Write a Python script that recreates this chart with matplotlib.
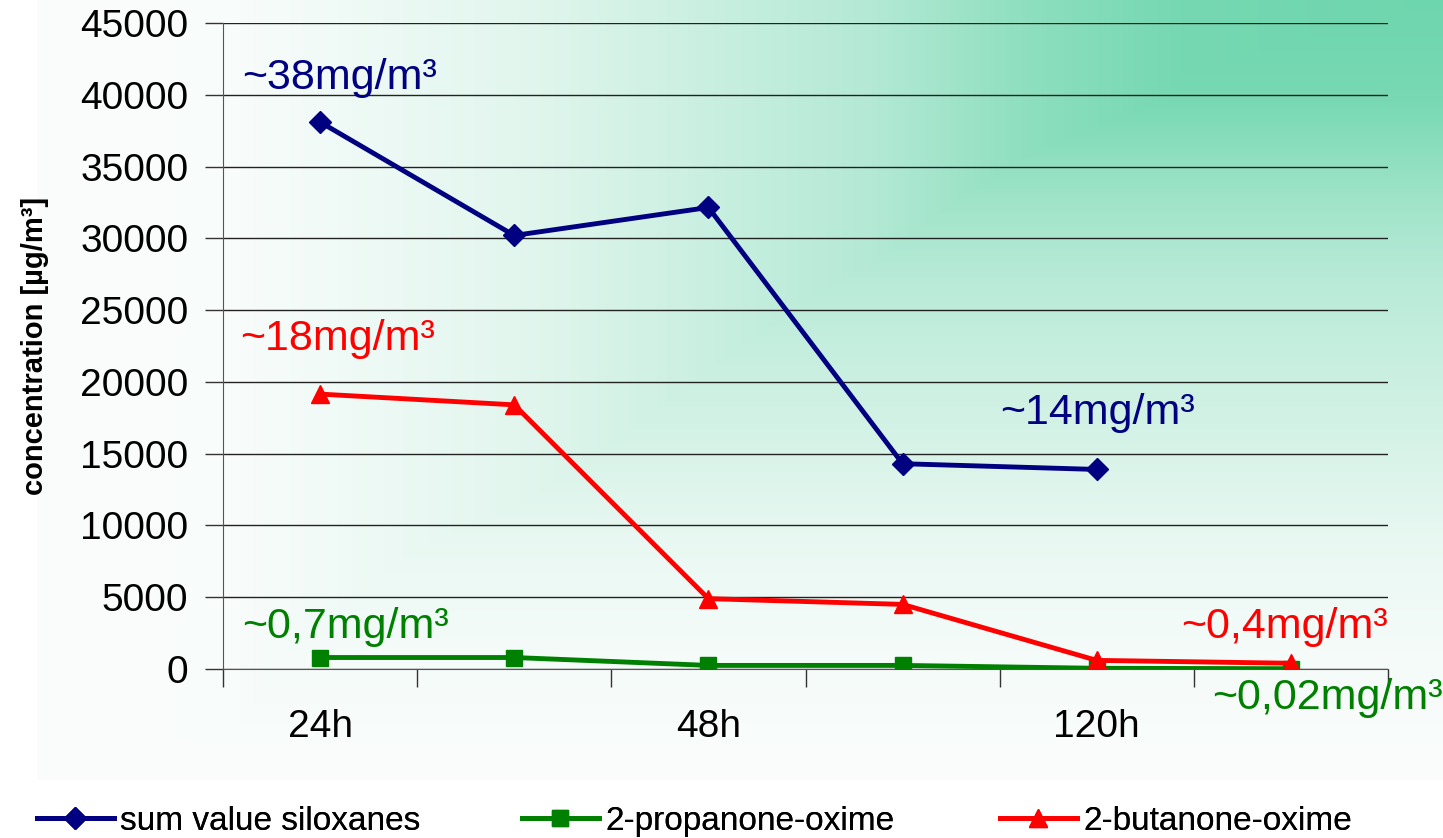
# Concentrations of siloxanes and oximes over time
import numpy as np
import matplotlib.pyplot as plt

plt.rcParams['font.family'] = ['Liberation Sans', 'DejaVu Sans']

# data
times = ['24h', '', '48h', '', '120h', '']
siloxanes = [38100, 30200, 32150, 14300, 13900]
propanone = [800, 800, 250, 250, 50, 20]
butanone = [19150, 18400, 4900, 4500, 600, 400]

navy = '#000080'
green = '#008000'
red = '#ff0000'

fig = plt.figure(figsize=(14.43, 8.38), dpi=100)

# background: rectangular gradient fading out from the upper right corner
bg = fig.add_axes([37 / 1443, 58 / 838, 1 - 37 / 1443, 1 - 58 / 838])
bg.set_axis_off()
xx, yy = np.meshgrid(np.linspace(0, 1406, 500), np.linspace(0, 780, 300))
h = np.interp(1406 - xx, [0, 260, 406, 573, 706, 906, 1206, 1406],
              [0, 0.05, 0.21, 0.5, 0.62, 0.81, 0.98, 1])
v = np.interp(yy, [0, 100, 150, 200, 280, 550, 650, 780],
              [0, 0.07, 0.21, 0.35, 0.53, 0.88, 0.95, 1])
t = np.maximum(h, v)
c0 = np.array([110, 214, 174]) / 255
c1 = np.array([251, 253, 252]) / 255
img = c0[None, None, :] * (1 - t[..., None]) + c1[None, None, :] * t[..., None]
bg.imshow(img, aspect='auto', extent=[0, 1, 0, 1], origin='upper')
bg.set_xlim(0, 1)
bg.set_ylim(0, 1)

ax = fig.add_axes([223 / 1443, 1 - 669 / 838, (1388 - 223) / 1443, (669 - 23) / 838])
ax.patch.set_alpha(0)

x = np.arange(len(times))
l1, = ax.plot(x[:len(siloxanes)], siloxanes, color=navy, lw=3.5, marker='D', ms=11,
              label='sum value siloxanes', zorder=3)
l2, = ax.plot(x, propanone, color=green, lw=3.5, marker='s', ms=11,
              label='2-propanone-oxime', zorder=3)
l3, = ax.plot(x, butanone, color=red, lw=3.5, marker='^', ms=13,
              label='2-butanone-oxime', zorder=4)

ax.set_xlim(-0.5, 5.5)
ax.set_ylim(0, 45000)
ax.set_yticks(np.arange(0, 45001, 5000))
ax.grid(axis='y', color='#222222', lw=1)
ax.set_axisbelow(True)

# boundary ticks and centered category labels
ax.set_xticks(np.arange(-0.5, 5.6, 1))
ax.set_xticklabels([])
ax.set_xticks(x, minor=True)
ax.set_xticklabels(times, minor=True)
ax.tick_params(axis='x', which='major', direction='out', length=13, width=1, color='#333333')
ax.tick_params(axis='x', which='minor', length=0, pad=29, labelsize=28)
ax.tick_params(axis='y', direction='out', length=13, width=1, color='#333333', pad=12, labelsize=28)

for side in ['top', 'right']:
    ax.spines[side].set_visible(False)
ax.spines['left'].set_color('#555555')
ax.spines['bottom'].set_color('#555555')

ax.set_ylabel('concentration [µg/m³]', fontsize=21, fontweight='bold', labelpad=22)

# value annotations
ax.text(-0.4, 41200, '~38mg/m³', color=navy, fontsize=31, va='center', ha='left')
ax.text(-0.41, 23000, '~18mg/m³', color=red, fontsize=31, va='center', ha='left')
ax.text(3.5, 17800, '~14mg/m³', color=navy, fontsize=31, va='center', ha='left')
ax.text(-0.4, 2900, '~0,7mg/m³', color=green, fontsize=31, va='center', ha='left')
ax.text(5.5, 2900, '~0,4mg/m³', color=red, fontsize=31, va='center', ha='right')
ax.text(5.78, -2000, '~0,02mg/m³', color=green, fontsize=31, va='center', ha='right')

# legend entries along the bottom, one per series
for line, left in [(l1, 37), (l2, 522), (l3, 1000)]:
    leg = fig.legend(handles=[line], loc='center left', bbox_to_anchor=(left / 1443, 17 / 838),
                     frameon=False, fontsize=24, handlelength=2.3, handletextpad=0.2,
                     borderaxespad=0, borderpad=0)
    fig.add_artist(leg)

fig.savefig('out.png', dpi=100)
